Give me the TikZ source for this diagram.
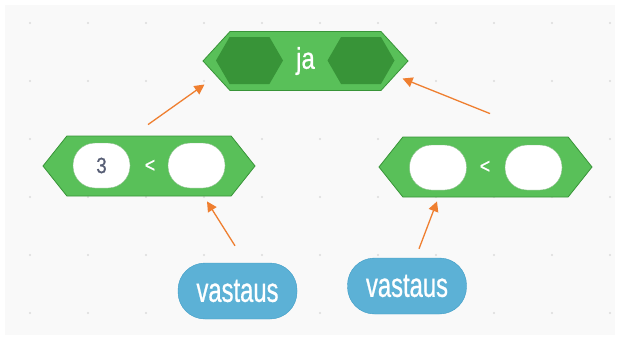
\documentclass[tikz,border=0pt]{standalone}
\usepackage{graphicx}
\usepackage{fontspec}
\newfontfamily\blockfont[FakeBold=0.8]{Liberation Sans}
\newcommand{\squeeze}[2][0.7]{\scalebox{#1}[1]{#2}}
\usetikzlibrary{arrows.meta,shapes.symbols}
\definecolor{opgreen}{HTML}{59C059}
\definecolor{opdark}{HTML}{389438}
\definecolor{sensblue}{HTML}{5CB1D6}
\definecolor{sensdark}{HTML}{3D9CC6}
\definecolor{argtext}{HTML}{575E75}
\definecolor{flowline}{HTML}{EF7F30}
\definecolor{canvas}{HTML}{F9F9F9}
\definecolor{griddot}{HTML}{DCDCDC}

\begin{document}
\begin{tikzpicture}[x=1pt,y=-1pt]
        \tikzset{hexblock/.style={shape=signal, signal to=east and west,
                draw=opdark, fill=opgreen, line width=0.8pt, inner sep=0pt,
                text=white, font=\blockfont\fontsize{30}{30}\selectfont},
            slot/.style={hexblock, draw=none, fill=opdark,
                minimum width=67pt, minimum height=47pt, signal pointer angle=120},
            argslot/.style={draw=opdark!60, fill=white, rounded corners=22pt,
                minimum width=57pt, minimum height=45pt, inner sep=0pt,
                text=argtext, font=\blockfont\fontsize{22}{22}\selectfont},
            op/.style={text=white, inner sep=0pt, font=\blockfont\fontsize{21}{21}\selectfont},
            reporter/.style={draw=sensdark, fill=sensblue, rounded corners=27pt,
                minimum width=119pt, minimum height=56pt, inner sep=0pt,
                text=white, font=\blockfont\fontsize{34}{34}\selectfont},
            flow/.style={draw=flowline, line width=1.3pt, -{Triangle[length=10pt,width=10pt]}}}
        % canvas with dotted grid
        \useasboundingbox (0,0) rectangle (620,343);
        \fill[white] (0,0) rectangle (620,343);
        \fill[canvas] (5,5) rectangle (615,335);
        \foreach \gx in {0,...,10}
            \foreach \gy in {0,...,5}
                \fill[griddot] ({30+58*\gx},{23+58*\gy}) circle (1.2pt);
        % "ja" block
        \node[hexblock, minimum width=205pt, minimum height=59pt, signal pointer angle=95] (ja) at (305.5,61) {\squeeze[0.8]{ja}};
        \node[slot] (jaL) at (249.5,60.5) {};
        \node[slot] (jaR) at (361,60.5) {};
        % comparisons
        \node[hexblock, minimum width=212pt, minimum height=60pt, signal pointer angle=103] (cmp1) at (149,166) {};
        \node[argslot] (c1a) at (101.5,165.5) {\squeeze[0.85]{3}};
        \node[op] (lt1) at (150,166) {\squeeze[0.85]{<}};
        \node[argslot] (c1b) at (196.5,165.5) {};
        \node[hexblock, minimum width=213pt, minimum height=60pt, signal pointer angle=103] (cmp2) at (485.5,167) {};
        \node[argslot] (c2a) at (438,167.5) {};
        \node[op] (lt2) at (485,167) {\squeeze[0.85]{<}};
        \node[argslot] (c2b) at (533.5,167.5) {};
        % answers
        \node[reporter] (v1) at (237.5,291) {\squeeze{vastaus}};
        \node[reporter] (v2) at (407,286) {\squeeze{vastaus}};
        % arrows
        \draw[flow] ([xshift=-1pt,yshift=11pt]cmp1.north) -- ([xshift=2pt,yshift=-23.5pt]ja.west);
        \draw[flow] ([xshift=4.5pt,yshift=23pt]cmp2.north) -- ([xshift=-6pt,yshift=-17.5pt]ja.east);
        \draw[flow] ([xshift=-2.5pt,yshift=17pt]v1.north) -- ([xshift=58pt,yshift=-5pt]cmp1.south);
        \draw[flow] ([xshift=12pt,yshift=9pt]v2.north) -- ([xshift=-48.5pt,yshift=-4pt]cmp2.south);
\end{tikzpicture}
\end{document}
